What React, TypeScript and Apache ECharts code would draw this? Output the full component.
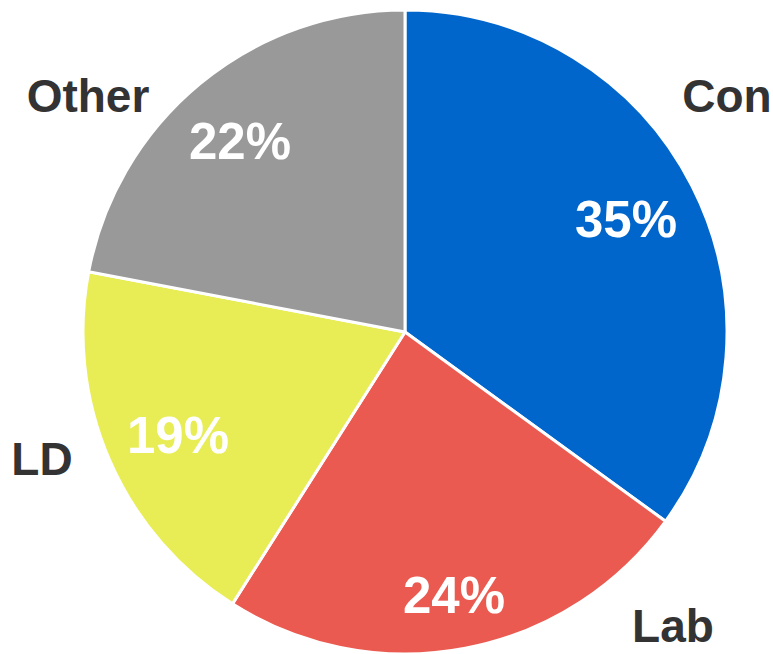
import React, { useEffect, useRef } from "react";
import * as echarts from "echarts";

const categories = ["Con", "Lab", "LD", "Other"];
const shares = [35, 24, 19, 22];
const colors = ["#0066CC", "#EB5A50", "#E8EC55", "#999999"];

// label anchor positions (px) for percent labels and category names
const pctPos = [
  [626, 219],
  [454, 595],
  [178, 435],
  [240, 141],
];
const namePos = [
  [727, 96],
  [673, 626],
  [42, 459],
  [88, 96],
];

export default function App() {
  const ref = useRef<HTMLDivElement>(null);
  useEffect(() => {
    if (!ref.current) return;
    const chart = echarts.init(ref.current, null, { renderer: "svg" });
    const data = categories.map((c, i) => ({
      name: c,
      value: shares[i],
      itemStyle: { color: colors[i] },
    }));
    const font = "'Liberation Sans', Arial, sans-serif";
    chart.setOption({
      animation: false,
      backgroundColor: "#ffffff",
      series: [
        {
          type: "pie",
          center: [405, 332],
          radius: [0, 322],
          startAngle: 90,
          clockwise: true,
          silent: true,
          data,
          itemStyle: { borderColor: "#ffffff", borderWidth: 3 },
          label: {
            show: true,
            position: "inside",
            formatter: (p: any) => p.value + "%",
            color: "#ffffff",
            fontFamily: font,
            fontWeight: "bold",
            fontSize: 51,
          },
          labelLine: { show: false },
          labelLayout: (p: any) => ({
            x: pctPos[p.dataIndex][0],
            y: pctPos[p.dataIndex][1],
            align: "center",
            verticalAlign: "middle",
          }),
        },
        {
          type: "pie",
          center: [405, 332],
          radius: [0, 322],
          startAngle: 90,
          clockwise: true,
          silent: true,
          z: 3,
          data: categories.map((c, i) => ({ name: c, value: shares[i] })),
          itemStyle: { color: "rgba(0,0,0,0)", borderWidth: 0 },
          label: {
            show: true,
            position: "inside",
            overflow: "none",
            formatter: "{b}",
            color: "#333333",
            fontFamily: font,
            fontWeight: "bold",
            fontSize: 46,
          },
          labelLine: { show: false },
          labelLayout: (p: any) => ({
            x: namePos[p.dataIndex][0],
            y: namePos[p.dataIndex][1],
            align: "center",
            verticalAlign: "middle",
            hideOverlap: false,
          }),
        },
      ],
    });
    return () => chart.dispose();
  }, []);
  return (
    <div
      ref={ref}
      style={{ position: "fixed", left: 0, top: 0, width: 773, height: 654 }}
    />
  );
}
